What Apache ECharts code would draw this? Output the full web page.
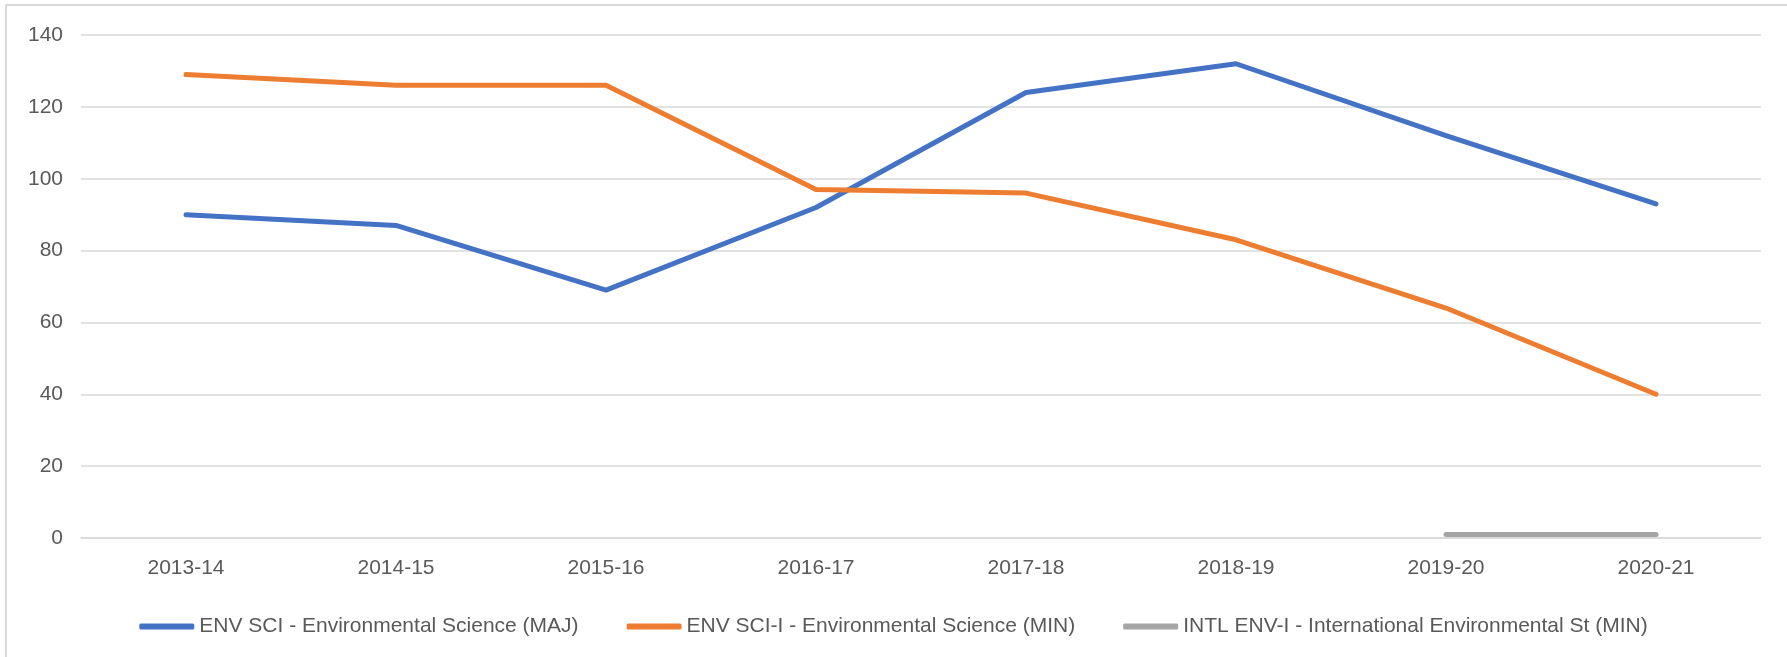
<!DOCTYPE html>
<html>
  <head>
    <meta charset="UTF-8" />
    <title>Environmental Science enrolment</title>
    <style>
      html,
      body {
        margin: 0;
        padding: 0;
        background: #fff;
      }
      .frame {
        position: absolute;
        left: 5px;
        top: 4px;
        width: 1790px;
        height: 660px;
        border-left: 2px solid #d9d9d9;
        border-top: 2px solid #d9d9d9;
        pointer-events: none;
      }
      #main {
        width: 1787px;
        height: 657px;
      }
    </style>
  </head>
  <body>
    <div id="main"></div>
    <div class="frame"></div>
  </body>
  <script src="https://cdn.jsdelivr.net/npm/echarts@6/dist/echarts.min.js"></script>
  <script>
    var years = ["2013-14", "2014-15", "2015-16", "2016-17", "2017-18", "2018-19", "2019-20", "2020-21"];
    var envSciMaj = [90, 87, 69, 92, 124, 132, 112, 93];
    var envSciMin = [129, 126, 126, 97, 96, 83, 64, 40];
    var intlEnvMin = [null, null, null, null, null, null, 1, 1];
    var yTicks = { min: 0, max: 140, step: 20 };

    var seriesNames = [
      "ENV SCI - Environmental Science (MAJ)",
      "ENV SCI-I - Environmental Science (MIN)",
      "INTL ENV-I - International Environmental St (MIN)",
    ];
    var colors = ["#4472c4", "#ed7d31", "#a5a5a5"];
    var font = "'Liberation Sans', Arial, sans-serif";

    function lineSeries(name, data, color) {
      return {
        name: name,
        type: "line",
        data: data,
        symbol: "none",
        connectNulls: false,
        lineStyle: { color: color, width: 5, cap: "round", join: "round" },
        itemStyle: { color: color },
      };
    }

    var myChart = echarts.init(document.getElementById("main"));
    myChart.setOption({
      animation: false,
      color: colors,
      textStyle: { fontFamily: font },
      grid: { left: 81, right: 26, top: 35, bottom: 119 },
      legend: {
        left: "center",
        top: 611,
        icon: "roundRect",
        itemWidth: 55,
        itemHeight: 6,
        itemGap: 48,
        textStyle: { color: "#595959", fontSize: 21, fontFamily: font },
        data: seriesNames,
      },
      xAxis: {
        type: "category",
        data: years,
        boundaryGap: true,
        axisTick: { show: false },
        axisLine: { lineStyle: { color: "#d9d9d9", width: 1.5 } },
        axisLabel: { color: "#595959", fontSize: 21, margin: 20 },
      },
      yAxis: {
        type: "value",
        min: yTicks.min,
        max: yTicks.max,
        interval: yTicks.step,
        axisLine: { show: false },
        axisTick: { show: false },
        axisLabel: { color: "#595959", fontSize: 21, margin: 18 },
        splitLine: { lineStyle: { color: "#d9d9d9", width: 1.5 } },
      },
      series: [
        lineSeries(seriesNames[0], envSciMaj, colors[0]),
        lineSeries(seriesNames[1], envSciMin, colors[1]),
        lineSeries(seriesNames[2], intlEnvMin, colors[2]),
      ],
    });
  </script>
</html>
